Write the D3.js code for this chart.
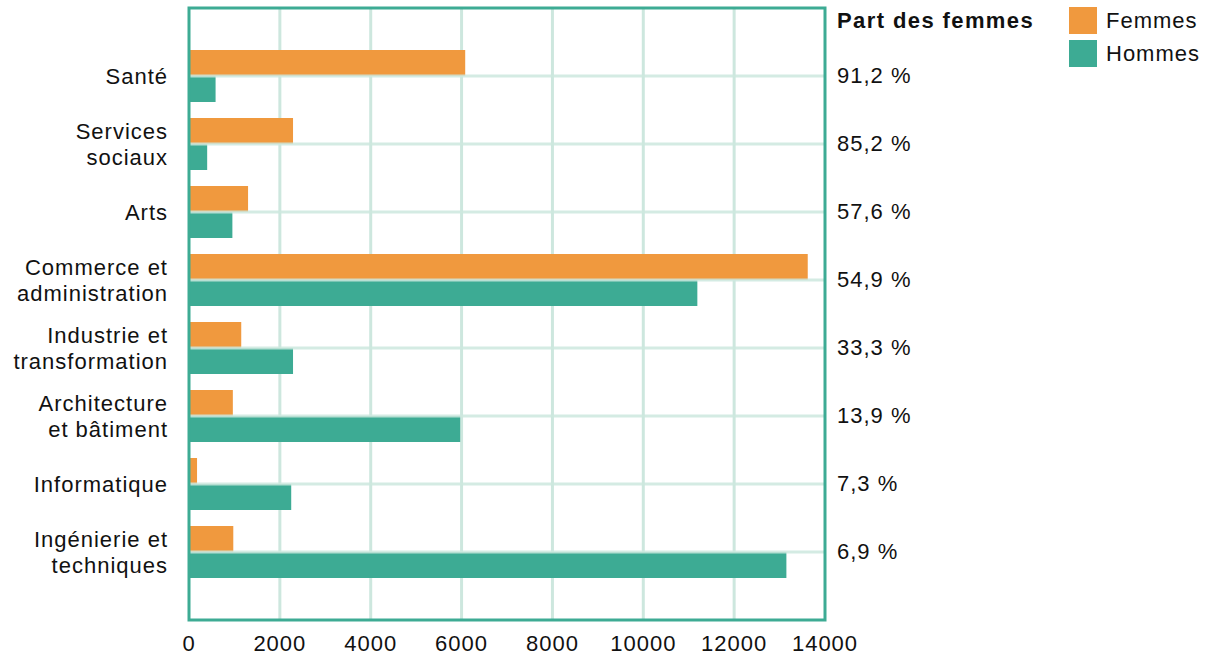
<!DOCTYPE html>
<html>
<head>
<meta charset="utf-8">
<script src="https://cdn.jsdelivr.net/npm/d3@7"></script>
<style>
  body { margin: 0; background: #fff; }
  text { font-family: "Liberation Sans", Arial, sans-serif; fill: #111; letter-spacing: 1px; }
</style>
</head>
<body>
<svg id="chart" width="1211" height="658"></svg>
<script>
const categories = [
  ['Santé'],
  ['Services', 'sociaux'],
  ['Arts'],
  ['Commerce et', 'administration'],
  ['Industrie et', 'transformation'],
  ['Architecture', 'et bâtiment'],
  ['Informatique'],
  ['Ingénierie et', 'techniques']
];
const femmes = [6080, 2290, 1300, 13620, 1150, 965, 177, 975];
const hommes = [585, 400, 955, 11190, 2290, 5970, 2250, 13150];
const partFemmes = ['91,2 %', '85,2 %', '57,6 %', '54,9 %', '33,3 %', '13,9 %', '7,3 %', '6,9 %'];
const xTicks = [0, 2000, 4000, 6000, 8000, 10000, 12000, 14000];

const orange = '#f0993e';
const teal = '#3dab94';
const grid = '#cde7de';
const fs = 22;

const svg = d3.select('#chart');
const mLeft = 189, mRight = 825, mTop = 8, mBottom = 620;

const x = d3.scaleLinear().domain([0, 14000]).range([mLeft, mRight]);
const y = d3.scaleBand()
  .domain(d3.range(categories.length))
  .range([mTop, mBottom])
  .paddingInner(0)
  .paddingOuter(0.5);
const barH = 26;
const mid = i => y(i) + y.bandwidth() / 2;

// vertical grid lines
svg.append('g')
  .selectAll('line')
  .data(xTicks.slice(1, -1))
  .join('line')
  .attr('x1', d => x(d)).attr('x2', d => x(d))
  .attr('y1', mTop).attr('y2', mBottom)
  .attr('stroke', grid).attr('stroke-width', 3);

// bars
const g = svg.append('g');
g.selectAll('rect.f')
  .data(femmes)
  .join('rect')
  .attr('class', 'f')
  .attr('x', x(0))
  .attr('y', (d, i) => mid(i) - barH)
  .attr('width', d => x(d) - x(0))
  .attr('height', barH)
  .attr('fill', orange);
g.selectAll('rect.h')
  .data(hommes)
  .join('rect')
  .attr('class', 'h')
  .attr('x', x(0))
  .attr('y', (d, i) => mid(i))
  .attr('width', d => x(d) - x(0))
  .attr('height', barH)
  .attr('fill', teal);

// horizontal grid lines at band centers
svg.append('g')
  .selectAll('line')
  .data(d3.range(categories.length))
  .join('line')
  .attr('x1', mLeft).attr('x2', mRight)
  .attr('y1', i => mid(i))
  .attr('y2', i => mid(i))
  .attr('stroke', grid).attr('stroke-width', 3)
  .attr('stroke-opacity', 0.85);

// frame
svg.append('rect')
  .attr('x', mLeft).attr('y', mTop)
  .attr('width', mRight - mLeft).attr('height', mBottom - mTop)
  .attr('fill', 'none')
  .attr('stroke', teal).attr('stroke-width', 3);

// category labels
const lh = 26;
svg.append('g')
  .selectAll('text')
  .data(categories)
  .join('text')
  .attr('text-anchor', 'end')
  .attr('font-size', fs)
  .attr('y', (d, i) => mid(i))
  .each(function(d) {
    const t = d3.select(this);
    d.forEach((line, k) => {
      t.append('tspan')
        .attr('x', 168)
        .attr('dy', k === 0 ? ((-(d.length - 1) / 2) * lh + 8) : lh)
        .text(line);
    });
  });

// share labels
svg.append('g')
  .selectAll('text')
  .data(partFemmes)
  .join('text')
  .attr('x', 837)
  .attr('y', (d, i) => mid(i) + 7)
  .attr('font-size', fs)
  .text(d => d);

svg.append('text')
  .attr('x', 837).attr('y', 28)
  .attr('font-size', fs).attr('font-weight', 'bold')
  .style('letter-spacing', '1.4px')
  .text('Part des femmes');

// x axis labels
svg.append('g')
  .selectAll('text')
  .data(xTicks)
  .join('text')
  .attr('x', d => x(d))
  .attr('y', 651)
  .attr('text-anchor', 'middle')
  .attr('font-size', fs)
  .text(d => d);

// legend
const legend = [['Femmes', orange], ['Hommes', teal]];
const lg = svg.append('g').selectAll('g')
  .data(legend)
  .join('g')
  .attr('transform', (d, i) => `translate(1069, ${7 + i * 33})`);
lg.append('rect').attr('width', 28).attr('height', 27).attr('fill', d => d[1]);
lg.append('text').attr('x', 37).attr('y', 21).attr('font-size', fs).text(d => d[0]);
</script>
</body>
</html>
